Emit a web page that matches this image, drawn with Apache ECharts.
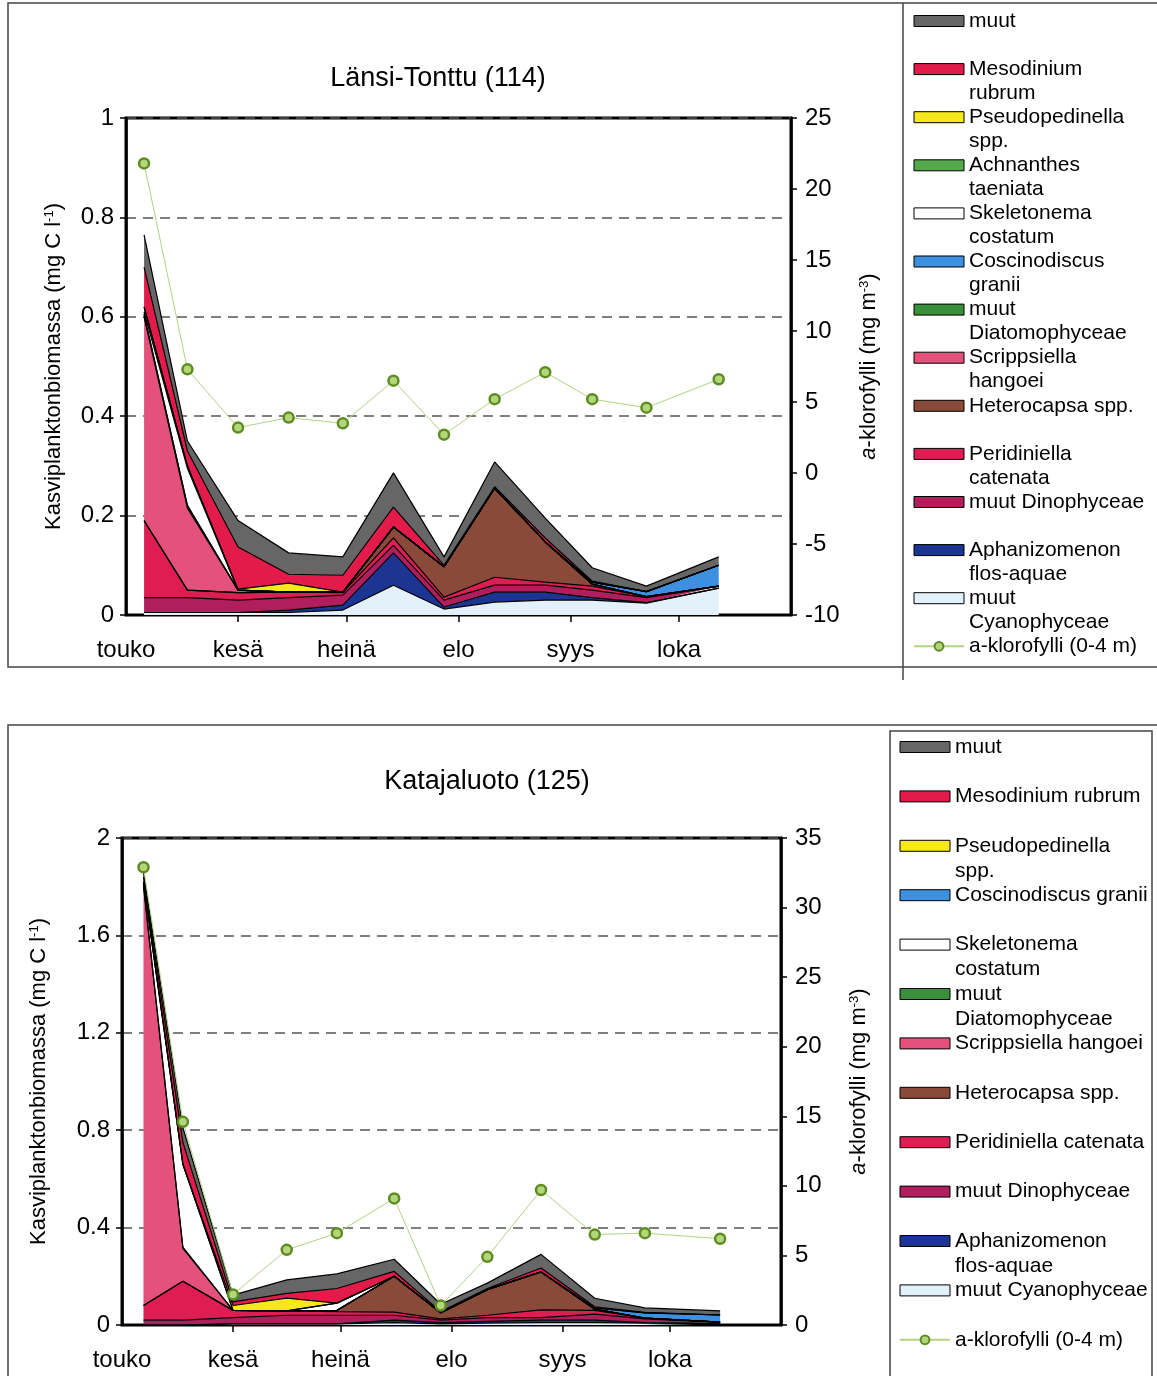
<!DOCTYPE html>
<html>
<head>
<meta charset="utf-8">
<script src="https://cdn.jsdelivr.net/npm/echarts@6/dist/echarts.min.js"></script>
<style>
html, body { margin: 0; padding: 0; background: #fff; }
#chart { width: 1157px; height: 1376px; }
</style>
</head>
<body>
<div id="chart"></div>
<script>
// month axis (days counted from 1 May)
var monthStart = [0, 31, 61, 92, 123, 153, 184];
var monthNames = ['touko', 'kesä', 'heinä', 'elo', 'syys', 'loka'];

// ---- Länsi-Tonttu (114) ----
var ltDays = [5, 17, 31, 45, 60, 74, 88, 102, 116, 129, 144, 164];
var ltCyano = [0.005, 0.005, 0.005, 0.005, 0.01, 0.06, 0.012, 0.026, 0.03, 0.03, 0.024, 0.054];
var ltAphan = [0, 0, 0, 0.005, 0.01, 0.065, 0.004, 0.02, 0.016, 0.005, 0.001, 0];
var ltDino = [0.03, 0.03, 0.025, 0.025, 0.02, 0.015, 0.014, 0.014, 0.014, 0.015, 0.01, 0.004];
var ltPerid = [0.155, 0.015, 0.015, 0.011, 0.005, 0.015, 0.006, 0.016, 0.006, 0.008, 0.002, 0];
var ltHetero = [0, 0, 0, 0, 0.001, 0.022, 0.061, 0.179, 0.081, 0.004, 0, 0];
var ltScripps = [0.41, 0.165, 0.005, 0, 0, 0, 0, 0, 0, 0, 0, 0];
var ltDiatom = [0.005, 0.005, 0, 0, 0, 0, 0, 0, 0, 0, 0, 0];
var ltCosc = [0, 0, 0, 0, 0, 0, 0, 0, 0, 0.004, 0.01, 0.042];
var ltSkel = [0.005, 0.075, 0, 0, 0, 0, 0, 0, 0, 0, 0, 0];
var ltAchn = [0.01, 0.005, 0, 0, 0, 0, 0, 0, 0, 0, 0, 0];
var ltPseudo = [0, 0, 0.002, 0.018, 0, 0, 0, 0, 0, 0, 0, 0];
var ltMeso = [0.08, 0.03, 0.085, 0.018, 0.034, 0.04, 0.003, 0.003, 0.008, 0.002, 0, 0];
var ltMuut = [0.065, 0.02, 0.053, 0.043, 0.037, 0.069, 0.017, 0.05, 0.04, 0.027, 0.011, 0.017];
var ltChl = [21.8, 7.3, 3.2, 3.9, 3.5, 6.5, 2.7, 5.2, 7.1, 5.2, 4.6, 6.6];

// ---- Katajaluoto (125) ----
var kaDays = [6, 17, 31, 46, 60, 76, 89, 102, 117, 132, 146, 167];
var kaCyano = [0, 0, 0.005, 0.005, 0.005, 0.01, 0.005, 0.008, 0.01, 0.01, 0.008, 0.006];
var kaAphan = [0, 0, 0, 0, 0, 0.01, 0.005, 0.007, 0.01, 0.01, 0.002, 0.002];
var kaDino = [0.02, 0.02, 0.025, 0.035, 0.035, 0.02, 0.01, 0.015, 0.01, 0.025, 0.015, 0.004];
var kaPerid = [0.06, 0.16, 0.03, 0.018, 0.015, 0.013, 0.005, 0.01, 0.032, 0.015, 0.003, 0];
var kaHetero = [0, 0, 0, 0, 0.005, 0.147, 0.025, 0.105, 0.156, 0.005, 0, 0];
var kaScripps = [1.72, 0.135, 0, 0, 0, 0, 0, 0, 0, 0, 0, 0];
var kaDiatom = [0.01, 0.005, 0, 0, 0, 0, 0, 0, 0, 0, 0, 0];
var kaSkel = [0.01, 0.34, 0, 0, 0.03, 0, 0, 0, 0, 0, 0, 0];
var kaCosc = [0, 0, 0, 0, 0, 0, 0, 0, 0, 0.005, 0.022, 0.029];
var kaPseudo = [0, 0, 0.02, 0.052, 0, 0, 0, 0, 0, 0, 0, 0];
var kaMeso = [0.02, 0.09, 0.015, 0.02, 0.06, 0.02, 0.005, 0.005, 0.016, 0.005, 0.002, 0];
var kaMuut = [0.02, 0.06, 0.028, 0.055, 0.06, 0.05, 0.03, 0.022, 0.056, 0.035, 0.018, 0.017];
var kaChl = [32.9, 14.6, 2.2, 5.4, 6.6, 9.1, 1.4, 4.9, 9.7, 6.5, 6.6, 6.2];

var FONT = 'Liberation Sans, Arial, sans-serif';
var CHL = 'a-klorofylli (0-4 m)';

var colors = {
  'muut': '#666666',
  'Mesodinium rubrum': '#e21b4b',
  'Pseudopedinella spp.': '#f7e81c',
  'Achnanthes taeniata': '#56a84c',
  'Skeletonema costatum': '#ffffff',
  'Coscinodiscus granii': '#3d8fdf',
  'muut Diatomophyceae': '#3a8f3a',
  'Scrippsiella hangoei': '#e4527c',
  'Heterocapsa spp.': '#8a4a3a',
  'Peridiniella catenata': '#de1d52',
  'muut Dinophyceae': '#b01f5c',
  'Aphanizomenon flos-aquae': '#1c3592',
  'muut Cyanophyceae': '#e3f1fb'
};

// stacking order, bottom first
var ltStack = [
  ['muut Cyanophyceae', ltCyano], ['Aphanizomenon flos-aquae', ltAphan],
  ['muut Dinophyceae', ltDino], ['Peridiniella catenata', ltPerid],
  ['Heterocapsa spp.', ltHetero], ['Scrippsiella hangoei', ltScripps],
  ['muut Diatomophyceae', ltDiatom], ['Coscinodiscus granii', ltCosc],
  ['Skeletonema costatum', ltSkel], ['Achnanthes taeniata', ltAchn],
  ['Pseudopedinella spp.', ltPseudo], ['Mesodinium rubrum', ltMeso], ['muut', ltMuut]
];
var kaStack = [
  ['muut Cyanophyceae', kaCyano], ['Aphanizomenon flos-aquae', kaAphan],
  ['muut Dinophyceae', kaDino], ['Peridiniella catenata', kaPerid],
  ['Heterocapsa spp.', kaHetero], ['Scrippsiella hangoei', kaScripps],
  ['muut Diatomophyceae', kaDiatom], ['Skeletonema costatum', kaSkel],
  ['Coscinodiscus granii', kaCosc], ['Pseudopedinella spp.', kaPseudo],
  ['Mesodinium rubrum', kaMeso], ['muut', kaMuut]
];

// legend label lines
var ltLabels = {
  'muut': ['muut'], 'Mesodinium rubrum': ['Mesodinium', 'rubrum'],
  'Pseudopedinella spp.': ['Pseudopedinella', 'spp.'], 'Achnanthes taeniata': ['Achnanthes', 'taeniata'],
  'Skeletonema costatum': ['Skeletonema', 'costatum'], 'Coscinodiscus granii': ['Coscinodiscus', 'granii'],
  'muut Diatomophyceae': ['muut', 'Diatomophyceae'], 'Scrippsiella hangoei': ['Scrippsiella', 'hangoei'],
  'Heterocapsa spp.': ['Heterocapsa spp.'], 'Peridiniella catenata': ['Peridiniella', 'catenata'],
  'muut Dinophyceae': ['muut Dinophyceae'], 'Aphanizomenon flos-aquae': ['Aphanizomenon', 'flos-aquae'],
  'muut Cyanophyceae': ['muut', 'Cyanophyceae'], 'a-klorofylli (0-4 m)': ['a-klorofylli (0-4 m)']
};
var kaLabels = {
  'muut': ['muut'], 'Mesodinium rubrum': ['Mesodinium rubrum'],
  'Pseudopedinella spp.': ['Pseudopedinella', 'spp.'], 'Coscinodiscus granii': ['Coscinodiscus granii'],
  'Skeletonema costatum': ['Skeletonema', 'costatum'], 'muut Diatomophyceae': ['muut', 'Diatomophyceae'],
  'Scrippsiella hangoei': ['Scrippsiella hangoei'], 'Heterocapsa spp.': ['Heterocapsa spp.'],
  'Peridiniella catenata': ['Peridiniella catenata'], 'muut Dinophyceae': ['muut Dinophyceae'],
  'Aphanizomenon flos-aquae': ['Aphanizomenon', 'flos-aquae'], 'muut Cyanophyceae': ['muut Cyanophyceae'],
  'a-klorofylli (0-4 m)': ['a-klorofylli (0-4 m)']
};

// value first, day second: keeps the stack on the y dimension
function areaSeries(name, vals, days, g) {
  return {
    name: name, type: 'line', stack: 'g' + g,
    xAxisIndex: g, yAxisIndex: g * 2,
    data: days.map(function (d, i) { return [vals[i], d]; }),
    encode: { x: 1, y: 0 },
    symbol: 'none',
    lineStyle: { color: '#000', width: 1.2 },
    areaStyle: { color: colors[name], opacity: 1 },
    itemStyle: { color: colors[name] },
    emphasis: { disabled: true }
  };
}

function chlSeries(vals, days, g) {
  return {
    name: CHL, type: 'line', xAxisIndex: g, yAxisIndex: g * 2 + 1,
    data: days.map(function (d, i) { return [d, vals[i]]; }),
    symbol: 'circle', symbolSize: 10, z: 5,
    lineStyle: { color: '#b2d484', width: 1 },
    itemStyle: { color: '#b4d67a', borderColor: '#5d8c22', borderWidth: 2.5 },
    emphasis: { disabled: true }
  };
}

function legendCfg(stack, labels, left, top, lh, slot) {
  var items = stack.slice().reverse().map(function (s) {
    return { name: s[0], icon: 'rect', itemStyle: { color: colors[s[0]], borderColor: '#000', borderWidth: 1 } };
  });
  items.push({ name: CHL });
  return {
    orient: 'vertical', left: left, top: top, padding: 0, height: 1000,
    itemWidth: 50, itemHeight: 11, itemGap: slot - 3 * lh,
    selectedMode: false,
    data: items,
    formatter: function (name) {
      var t = labels[name];
      return '{a|' + t[0] + '}\n{a|' + (t[1] || ' ') + '}';
    },
    textStyle: {
      fontFamily: FONT, fontSize: 21, color: '#000', lineHeight: lh,
      padding: [lh, 0, 0, 0],
      rich: { a: { fontFamily: FONT, fontSize: 21, color: '#000', lineHeight: lh } }
    }
  };
}

function xAxisCfg(g) {
  return {
    type: 'value', gridIndex: g, min: 0, max: 184,
    axisLine: { show: true, lineStyle: { color: '#000', width: 2 } },
    axisTick: { show: true, customValues: monthStart.slice(1, 6), length: 7, lineStyle: { color: '#000', width: 1.5 } },
    axisLabel: {
      customValues: monthStart.slice(0, 6), margin: 23,
      fontFamily: FONT, fontSize: 24, color: '#000',
      formatter: function (v) { return monthNames[monthStart.indexOf(Math.round(v))] || ''; }
    },
    splitLine: { show: false }
  };
}

var nameRich = {
  n: { fontFamily: FONT, fontSize: 22, color: '#000' },
  i: { fontFamily: FONT, fontSize: 22, color: '#000', fontStyle: 'italic' },
  s: { fontFamily: FONT, fontSize: 13, color: '#000', verticalAlign: 'top' }
};

function yLeft(g, max, interval, gap) {
  return {
    type: 'value', gridIndex: g, position: 'left', min: 0, max: max, interval: interval,
    name: '{n|Kasviplanktonbiomassa (mg C l}{s|-1}{n|)}',
    nameLocation: 'middle', nameRotate: 90, nameGap: gap,
    nameTextStyle: { rich: nameRich },
    axisLine: { show: true, lineStyle: { color: '#000', width: 2.5 } },
    axisTick: { show: true, length: 6, lineStyle: { color: '#000', width: 1.5 } },
    axisLabel: { fontFamily: FONT, fontSize: 24, color: '#000', margin: 12 },
    splitLine: { show: true, lineStyle: { color: '#555', width: 1.5, type: [10, 7] } }
  };
}

function yRight(g, min, max) {
  return {
    type: 'value', gridIndex: g, position: 'right', min: min, max: max, interval: 5,
    name: '{i|a}{n|-klorofylli (mg m}{s|-3}{n|)}',
    nameLocation: 'middle', nameRotate: 90, nameGap: 67,
    nameTextStyle: { rich: nameRich },
    axisLine: { show: true, lineStyle: { color: '#000', width: 2.5 } },
    axisTick: { show: true, length: 6, lineStyle: { color: '#000', width: 1.5 } },
    axisLabel: { fontFamily: FONT, fontSize: 24, color: '#000', margin: 14 },
    splitLine: { show: false }
  };
}

var series = [];
ltStack.forEach(function (s) { series.push(areaSeries(s[0], s[1], ltDays, 0)); });
series.push(chlSeries(ltChl, ltDays, 0));
kaStack.forEach(function (s) { series.push(areaSeries(s[0], s[1], kaDays, 1)); });
series.push(chlSeries(kaChl, kaDays, 1));

var frame = { fill: 'none', stroke: '#444', lineWidth: 1.5 };

var option = {
  animation: false,
  backgroundColor: '#fff',
  title: [
    { text: 'Länsi-Tonttu (114)', left: 438, top: 65, padding: 0, textAlign: 'center',
      textStyle: { fontFamily: FONT, fontSize: 27, fontWeight: 'normal', color: '#000' } },
    { text: 'Katajaluoto (125)', left: 487, top: 768, padding: 0, textAlign: 'center',
      textStyle: { fontFamily: FONT, fontSize: 27, fontWeight: 'normal', color: '#000' } }
  ],
  grid: [
    { left: 126, top: 118, width: 665, height: 497, show: true, borderColor: '#000', borderWidth: 3, backgroundColor: 'transparent' },
    { left: 122, top: 838, width: 659, height: 487, show: true, borderColor: '#000', borderWidth: 3, backgroundColor: 'transparent' }
  ],
  xAxis: [xAxisCfg(0), xAxisCfg(1)],
  yAxis: [yLeft(0, 1, 0.2, 61), yRight(0, -10, 25), yLeft(1, 2, 0.4, 72), yRight(1, 0, 35)],
  legend: [
    legendCfg(ltStack, ltLabels, 913, -15, 24, 48.1),
    legendCfg(kaStack, kaLabels, 899, 709.5, 25, 49.4)
  ],
  graphic: [
    { type: 'rect', silent: true, shape: { x: 8, y: 3, width: 1170, height: 664 }, style: frame },
    { type: 'line', silent: true, shape: { x1: 903, y1: 3, x2: 903, y2: 680 }, style: frame },
    { type: 'rect', silent: true, shape: { x: 8, y: 725, width: 1170, height: 700 }, style: frame },
    { type: 'rect', silent: true, shape: { x: 890, y: 731, width: 262, height: 700 }, style: frame }
  ],
  series: series
};

var chart = echarts.init(document.getElementById('chart'));
chart.setOption(option);
</script>
</body>
</html>
